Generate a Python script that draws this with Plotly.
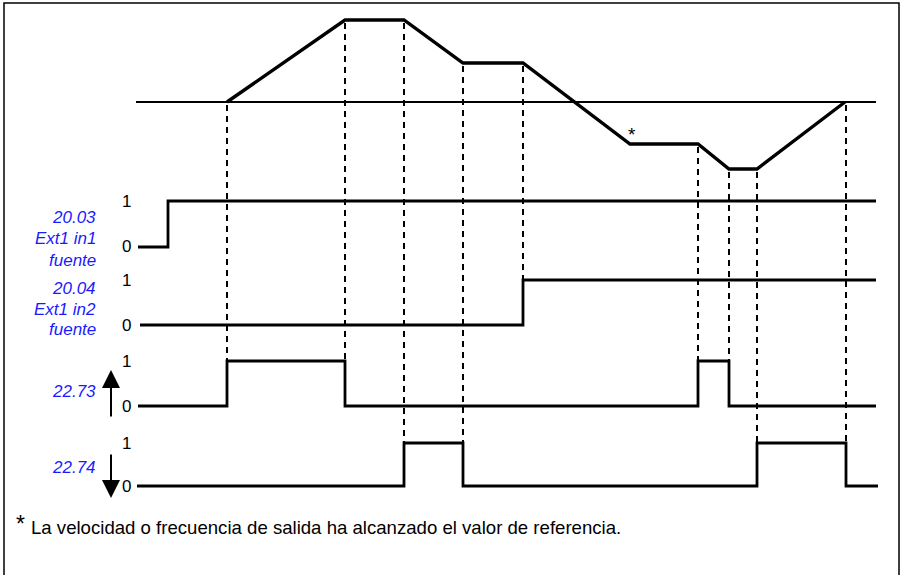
import numpy as np
import plotly.graph_objects as go

# ---------------------------------------------------------------
# Datos (tiempo en unidades del eje horizontal)
# ---------------------------------------------------------------
SPEED_T = [227, 345, 404, 463, 523, 630, 698, 729, 757, 845]
SPEED_V = [0, 82, 82, 39, 39, -42, -42, -67, -67, 0]
REF_T = [136, 876]
REF_V = [0, 0]

S2003_T = [138, 168, 876]
S2003_V = [0, 1, 1]
S2004_T = [140, 523, 876]
S2004_V = [0, 1, 1]
S2273_T = [138, 227, 345, 698, 729, 876]
S2273_V = [0, 1, 0, 1, 0, 0]
S2274_T = [137, 404, 463, 757, 846, 878]
S2274_V = [0, 1, 0, 1, 0, 0]

DROP_T = [227, 345, 404, 463, 523, 698, 729, 757, 846]
DROP_TO = ["22.73", "22.73", "22.74", "22.74", "20.04", "22.73", "22.73", "22.74", "22.74"]

LEVEL_LABELS = ["0", "1"]
FOOTNOTE = "La velocidad o frecuencia de salida ha alcanzado el valor de referencia."

# ---------------------------------------------------------------
# Layout (pixeles)
# ---------------------------------------------------------------
W, H = 902, 575
REF_PX = 102
# carril: (pixel nivel 0, pixel nivel 1)
LANES = {
    "20.03": (247, 201),
    "20.04": (325, 280),
    "22.73": (406, 361),
    "22.74": (486, 443),
}
PAD = 0.15
BLUE = "#1a1aff"
FONT = "Liberation Sans, Arial, sans-serif"


def py(px):
    return 1 - px / H


fig = go.Figure()

# velocidad + referencia
fig.add_trace(go.Scatter(x=REF_T, y=REF_V, mode="lines",
                         line=dict(color="black", width=2), yaxis="y"))
fig.add_trace(go.Scatter(x=SPEED_T, y=SPEED_V, mode="lines",
                         line=dict(color="black", width=3.4), yaxis="y"))

# señales digitales
series = [("20.03", S2003_T, S2003_V), ("20.04", S2004_T, S2004_V),
          ("22.73", S2273_T, S2273_V), ("22.74", S2274_T, S2274_V)]
axes = {}
for i, (name, t, v) in enumerate(series):
    ax = f"y{i + 2}"
    axes[name] = ax
    fig.add_trace(go.Scatter(x=t, y=v, mode="lines", line_shape="hv",
                             line=dict(color="black", width=2.8), yaxis=ax))

# líneas discontinuas
for t, lane in zip(DROP_T, DROP_TO):
    top = REF_PX - np.interp(t, SPEED_T, SPEED_V)
    bot = LANES[lane][0]
    fig.add_shape(type="line", xref="x", yref="paper", x0=t, x1=t,
                  y0=py(top + 3), y1=py(bot), layer="below",
                  line=dict(color="black", width=2, dash="6px,5px"))

# marco
fig.add_shape(type="rect", xref="paper", yref="paper", x0=4 / W, x1=899 / W,
              y0=py(580), y1=py(3), line=dict(color="black", width=1.5))

ann = []
# etiquetas 0 / 1
for name, (p0, p1) in LANES.items():
    for lvl, px in zip(LEVEL_LABELS, (p0, p1)):
        ann.append(dict(x=126, y=py(px), text=lvl, xanchor="center", yanchor="middle",
                        font=dict(size=17, color="black")))

# etiquetas azules
blue_lines = [("20.03", 217), ("Ext1 in1", 238), ("fuente", 260),
              ("20.04", 288), ("Ext1 in2", 309), ("fuente", 329),
              ("22.73", 391), ("22.74", 467)]
for txt, px in blue_lines:
    ann.append(dict(x=98, y=py(px), text=f"<i>{txt}</i>", xanchor="right", yanchor="middle",
                    font=dict(size=17, color=BLUE)))

# flechas
ann.append(dict(x=111, y=py(370), ax=0, ay=48, axref="pixel", ayref="pixel",
                text="", showarrow=True,
                arrowhead=2, arrowsize=1.8, arrowwidth=2, arrowcolor="black"))
ann.append(dict(x=111, y=py(498), ax=0, ay=-45, axref="pixel", ayref="pixel",
                text="", showarrow=True,
                arrowhead=2, arrowsize=1.8, arrowwidth=2, arrowcolor="black"))

# asterisco
ann.append(dict(x=632, y=py(134), text="*", xanchor="center", yanchor="middle",
                font=dict(size=19, color="black")))
ann.append(dict(x=20, y=py(524), text="*", xanchor="center", yanchor="middle",
                font=dict(size=23, color="black")))
ann.append(dict(x=29, y=py(527), text=FOOTNOTE, xanchor="left", yanchor="middle",
                font=dict(size=18.6, color="black")))

for a in ann:
    a.setdefault("xref", "x")
    a.setdefault("yref", "paper")
    a.setdefault("showarrow", False)

layout_axes = {}
for name, ax in axes.items():
    p0, p1 = LANES[name]
    amp = p0 - p1
    key = "yaxis" + ax[1:]
    layout_axes[key] = dict(domain=[py(p0 + PAD * amp), py(p1 - PAD * amp)],
                            range=[-PAD, 1 + PAD], anchor="x", visible=False,
                            fixedrange=True)

fig.update_layout(
    width=W, height=H, margin=dict(l=0, r=0, t=0, b=0),
    paper_bgcolor="white", plot_bgcolor="rgba(0,0,0,0)",
    showlegend=False, font=dict(family=FONT),
    xaxis=dict(range=[0, W], domain=[0, 1], visible=False, fixedrange=True),
    yaxis=dict(range=[REF_PX - H, REF_PX], domain=[0, 1], visible=False, fixedrange=True),
    annotations=ann,
    **layout_axes,
)

fig.write_html("out.html", config={"displayModeBar": False},
               post_script="document.body.style.margin='0';document.body.style.overflow='hidden';")
